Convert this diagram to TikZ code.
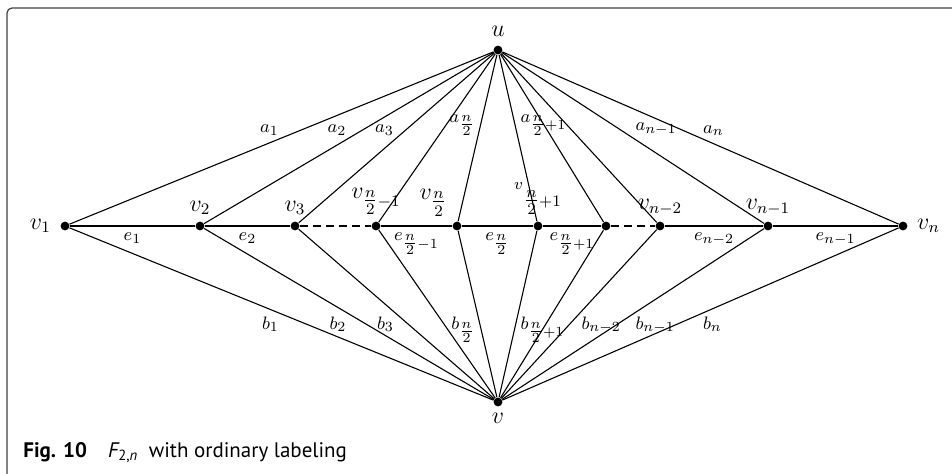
\documentclass[tikz,border=0pt]{standalone}
\usepackage{amsmath}
\usepackage{fontspec}
\setsansfont{PT Sans}

\begin{document}
\begin{tikzpicture}[x=0.5pt,y=-0.5pt,
  dot/.style={circle,fill=black,inner sep=0pt,minimum size=4.4pt},
  vlab/.style={font=\fontsize{11.8}{13}\selectfont,inner sep=3pt},
  elab/.style={font=\fontsize{9.5}{11}\selectfont,inner sep=1pt},
  hlab/.style={font=\fontsize{9.5}{11}\selectfont},
  edge/.style={black,line width=0.55pt},
  gap/.style={edge,dash pattern=on 4pt off 2.5pt}]
\useasboundingbox (0,0) rectangle (952,473);
\begin{scope}
\clip (0,0) rectangle (952,473);
\draw[black!75,line width=0.6pt,rounded corners=2.5pt] (7,8) rectangle (980,500);
\end{scope}
\node[dot,label={[vlab,label distance=1pt]above:$u$}] (u) at (498,50) {};
\node[dot,label={[vlab]below:$v$}] (v) at (498,402) {};
\node[dot,label={[vlab,label distance=1.5pt]left:$v_1$}] (v1) at (65,226) {};
\node[dot,label={[vlab]above:$v_2$}] (v2) at (200,226) {};
\node[dot,label={[vlab]above:$v_3$}] (v3) at (295,226) {};
\node[dot,label={[vlab]above:$v_{\tfrac{n}{2}-1}$}] (vh1) at (376,226) {};
\node[dot,label={[vlab]above left:$v_{\tfrac{n}{2}}$}] (vh) at (457,226) {};
\node[dot,label={[vlab]above:${}^{v}{}_{\tfrac{n}{2}+1}$}] (vh2) at (538,226) {};
\node[dot] (vh3) at (606,226) {};
\node[dot,label={[vlab]above:$v_{n-2}$}] (vn2) at (660,226) {};
\node[dot,label={[vlab]above:$v_{n-1}$}] (vn1) at (768,226) {};
\node[dot,label={[vlab,label distance=1.5pt]right:$v_n$}] (vn) at (903,226) {};
\draw[edge] (v1) -- node[hlab,below] (e1) {$e_1$} (v2);
\draw[edge] (v2) -- node[hlab,below] (e2) {$e_2$} (v3);
\draw[gap] (v3) -- (vh1);
\draw[edge] (vh1) -- node[hlab,below] (eh1) {$e_{\tfrac{n}{2}-1}$} (vh);
\draw[edge] (vh) -- node[hlab,below] (eh) {$e_{\tfrac{n}{2}}$} (vh2);
\draw[edge] (vh2) -- node[hlab,below] (eh2) {$e_{\tfrac{n}{2}+1}$} (vh3);
\draw[gap] (vh3) -- (vn2);
\draw[edge] (vn2) -- node[hlab,below] (en2) {$e_{n-2}$} (vn1);
\draw[edge] (vn1) -- node[hlab,below] (en1) {$e_{n-1}$} (vn);
\draw[edge] (u) -- node[elab,above left] (a1) {$a_1$} (v1);
\draw[edge] (u) -- node[elab,above left] (a2) {$a_2$} (v2);
\draw[edge] (u) -- node[elab,above left] (a3) {$a_3$} (v3);
\draw[edge] (u) -- (vh1);
\draw[edge] (u) -- node[elab,above left] (ah) {$a_{\tfrac{n}{2}}$} (vh);
\draw[edge] (u) -- node[elab,above right] (ah2) {$a_{\tfrac{n}{2}+1}$} (vh2);
\draw[edge] (u) -- (vh3);
\draw[edge] (u) -- (vn2);
\draw[edge] (u) -- node[elab,above right] (an1) {$a_{n-1}$} (vn1);
\draw[edge] (u) -- node[elab,above right] (an) {$a_n$} (vn);
\draw[edge] (v) -- node[elab,below left] (b1) {$b_1$} (v1);
\draw[edge] (v) -- node[elab,below left] (b2) {$b_2$} (v2);
\draw[edge] (v) -- node[elab,below left] (b3) {$b_3$} (v3);
\draw[edge] (v) -- (vh1);
\draw[edge] (v) -- node[elab,below left] (bh) {$b_{\tfrac{n}{2}}$} (vh);
\draw[edge] (v) -- node[elab,below right] (bh2) {$b_{\tfrac{n}{2}+1}$} (vh2);
\draw[edge] (v) -- (vh3);
\draw[edge] (v) -- node[elab,below right] (bn2) {$b_{n-2}$} (vn2);
\draw[edge] (v) -- node[elab,below right] (bn1) {$b_{n-1}$} (vn1);
\draw[edge] (v) -- node[elab,below right] (bn) {$b_n$} (vn);
\node[anchor=base west,inner sep=0pt,font=\sffamily\fontsize{10.5}{12}\selectfont] (cap) at (23,457)
  {\textbf{Fig. 10}\quad{\itshape F}\textsubscript{2,{\itshape n}}\enspace with ordinary labeling};
\end{tikzpicture}
\end{document}
